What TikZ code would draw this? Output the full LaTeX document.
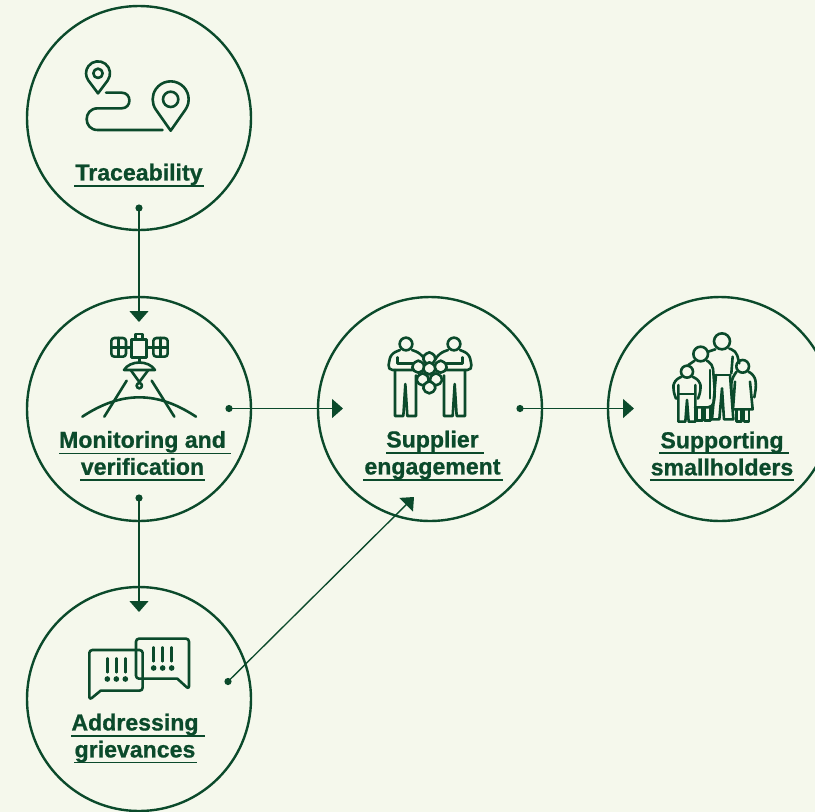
\documentclass[tikz,border=0pt]{standalone}
\usepackage{fontspec}
\setmainfont[BoldFeatures={FakeBold=0.8}]{Liberation Sans}
\usetikzlibrary{arrows.meta}
\definecolor{bgc}{HTML}{F5F8EC}
\definecolor{ink}{HTML}{0B4A2B}
\tikzset{
  ring/.style={circle,draw=ink,line width=2.4pt,minimum size=224pt,inner sep=0pt,fill=none},
  conn/.style={draw=ink,line width=1.35pt,-{Triangle[length=11pt,width=19pt]}},
  dotmark/.style={fill=ink,draw=none},
  lbl/.style={text=ink,align=center,inner sep=0pt,font=\fontsize{23.1}{27}\selectfont\bfseries},
  ul/.style={draw=ink,line width=1.1pt},
  ico/.style={draw=ink,line width=2.6pt,line join=round,line cap=round},
  zoomed/.style={x=0.33333pt,y=-0.33333pt}
}
\begin{document}
\begin{tikzpicture}[x=1pt,y=-1pt]
\useasboundingbox (0,0) rectangle (815,812);
\fill[bgc] (0,0) rectangle (815,812);
% circles
\node[ring] (trace) at (139,118) {};
\node[ring] (monit) at (139,409) {};
\node[ring] (suppl) at (430,409) {};
\node[ring] (small) at (720,409) {};
\node[ring] (griev) at (139,699) {};
% connector ends
\coordinate (a1) at (139,208); \coordinate (a2) at (139,322);
\coordinate (b1) at (229,408.5); \coordinate (b2) at (343,408.5);
\coordinate (c1) at (520,408.5); \coordinate (c2) at (634,408.5);
\coordinate (d1) at (139,498); \coordinate (d2) at (139,612);
\coordinate (e1) at (228,681.5); \coordinate (e2) at (414,497);
\foreach \s/\t in {a1/a2,b1/b2,c1/c2,d1/d2,e1/e2}{
  \fill[dotmark] (\s) circle (3.6);
  \draw[conn] (\s) -- (\t);
}
% labels
\node[lbl] (ltrace) at (139,174.5) {Traceability};
\node[lbl] (lmonit) at (142.5,453) {Monitoring and\\verification};
\node[lbl] (lsuppl) at (432.5,455) {Supplier\\engagement};
\node[lbl] (lsmall) at (722,453.5) {Supporting\\smallholders};
\node[lbl] (lgriev) at (135,738) {Addressing\\grievances};
\draw[ul] (74,186)--(204,186);
\draw[ul] (59,453.2)--(230.5,453.2);
\draw[ul] (80,480)--(205,480);
\draw[ul] (386,453)--(484,453);
\draw[ul] (363,480)--(503,480);
\draw[ul] (659,453)--(789,453);
\draw[ul] (650,480)--(794,480);
\draw[ul] (71,736)--(205,736);
\draw[ul] (74,762.5)--(197,762.5);
% traceability icon
\begin{scope}[shift={(50,40)},zoomed]
 \draw[ico] (144,160) -- (172.8,121.6) arc[start angle=37,end angle=-217,radius=36] -- cycle;
 \draw[ico] (144,100) circle[radius=14];
 \draw[ico] (362,272) -- (406.2,209) arc[start angle=35,end angle=-215,radius=54] -- cycle;
 \draw[ico] (362,178) circle[radius=23];
 \draw[ico] (168,158) -- (215,158) .. controls (246,158) and (246,205) .. (215,205)
   -- (143,205) .. controls (99,205) and (99,270) .. (143,270) -- (338,270);
\end{scope}
% satellite icon
\begin{scope}[shift={(50,310)},zoomed]
 \draw[ico] (245,88) rectangle (290,143);
 \draw[ico] (257,88) -- (257,72) -- (278,72) -- (278,88);
 \draw[ico,rounded corners=3pt] (184,84) rectangle (228,140);
 \draw[ico,rounded corners=3pt] (310,84) rectangle (353,140);
 \draw[ico] (206,84)--(206,140) (184,112)--(228,112);
 \draw[ico] (331,84)--(331,140) (310,112)--(353,112);
 \draw[ico] (228,112)--(245,112) (290,112)--(310,112);
 \draw[ico] (268,143)--(268,155);
 \draw[ico] (222,180) .. controls (240,150) and (296,150) .. (315,180) -- cycle;
 \draw[ico] (242,180)--(268,216)--(295,180);
 \draw[ico] (268,227) circle[radius=8];
 \draw[ico] (230,212)--(163,320);
 \draw[ico] (305,212)--(373,320);
 \draw[ico] (97,320) .. controls (155,282) and (210,262) .. (268,262) .. controls (326,262) and (380,282) .. (438,320);
\end{scope}
% supplier icon
\begin{scope}[shift={(350,320)},zoomed]
 \foreach \sc/\ox in {1/0,-1/480}{
 \begin{scope}[shift={(\ox,0)},xscale=\sc]
  \draw[ico] (168,72) circle[radius=19];
  \draw[ico,rounded corners=5pt] (150,90) -- (122,102) -- (113,150) -- (192,150);
  \draw[ico] (143,112) -- (143,130) -- (190,130);
  \draw[ico,rounded corners=5pt] (186,90) -- (212,100) -- (224,118);
  \draw[ico] (135,150) -- (135,288) -- (160,288) -- (166,192) -- (172,288) -- (198,288) -- (198,166);
 \end{scope}}
 \foreach \bx/\by in {238/115,205/140,272/140,238/145,218/178,258/178,238/202}{
  \draw[ico,fill=bgc] (\bx,\by-18) .. controls (\bx+30,\by-8) and (\bx+18,\by+16) .. (\bx,\by+18)
     .. controls (\bx-18,\by+16) and (\bx-30,\by-8) .. (\bx,\by-18) -- cycle;
 }
\end{scope}
% family icon
\begin{scope}[shift={(640,320)},zoomed]
 \draw[ico] (246,64) circle[radius=24];
 \draw[ico,rounded corners=3pt] (205,95) -- (226,88);
 \draw[ico,rounded corners=5pt] (268,86) -- (288,92) -- (298,130);
 \draw[ico] (278,110) -- (274,160);
 \draw[ico] (228,165) -- (270,165);
 \draw[ico] (228,165) -- (216,298) -- (238,298) -- (246,205) -- (252,298) -- (280,298) -- (270,165);
 \draw[ico] (182,102) circle[radius=22];
 \draw[ico] (164,122) -- (145,135);
 \draw[ico,rounded corners=5pt] (200,122) -- (218,132) -- (225,222) -- (219,262) -- (165,262);
 \draw[ico] (210,150) -- (210,235);
 \draw[ico] (170,262) -- (170,302) -- (187,302) -- (187,262);
 \draw[ico] (193,262) -- (193,302) -- (212,302) -- (212,262);
 \draw[ico] (141,155) circle[radius=18];
 \draw[ico,rounded corners=5pt] (125,170) -- (102,182) -- (99,210) -- (108,236);
 \draw[ico,rounded corners=5pt] (157,170) -- (180,182) -- (183,210) -- (174,236);
 \draw[ico] (115,195) -- (115,305) -- (136,305) -- (141,240) -- (146,305) -- (166,305) -- (166,195);
 \draw[ico] (115,222) -- (166,222);
 \draw[ico] (308,139) circle[radius=19];
 \draw[ico,rounded corners=5pt] (325,155) -- (343,165) -- (349,195) -- (343,232);
 \draw[ico,rounded corners=5pt] (290,155) -- (278,170) -- (272,200) -- (278,230);
 \draw[ico] (285,185) -- (279,268) -- (338,268) -- (330,185);
 \draw[ico] (290,268) -- (290,305) -- (304,305) -- (304,268);
 \draw[ico] (312,268) -- (312,305) -- (327,305) -- (327,268);
\end{scope}
% speech icon
\begin{scope}[shift={(60,620)},zoomed]
 \draw[ico,rounded corners=3pt] (122,212) -- (248,212) -- (248,90) -- (88,90) -- (88,240) [sharp corners] -- cycle;
 \draw[ico,rounded corners=3pt] (352,176) -- (228,176) -- (228,56) -- (387,56) -- (387,208) [sharp corners] -- cycle;
 \foreach \qx in {142,169,196}{
  \draw[ico] (\qx,115) -- (\qx,157);
  \fill[dotmark] (\qx,177) circle[radius=8.5];
 }
 \foreach \qx in {281,308,335}{
  \draw[ico] (\qx,82) -- (\qx,124);
  \fill[dotmark] (\qx,144) circle[radius=8.5];
 }
\end{scope}
\end{tikzpicture}
\end{document}
